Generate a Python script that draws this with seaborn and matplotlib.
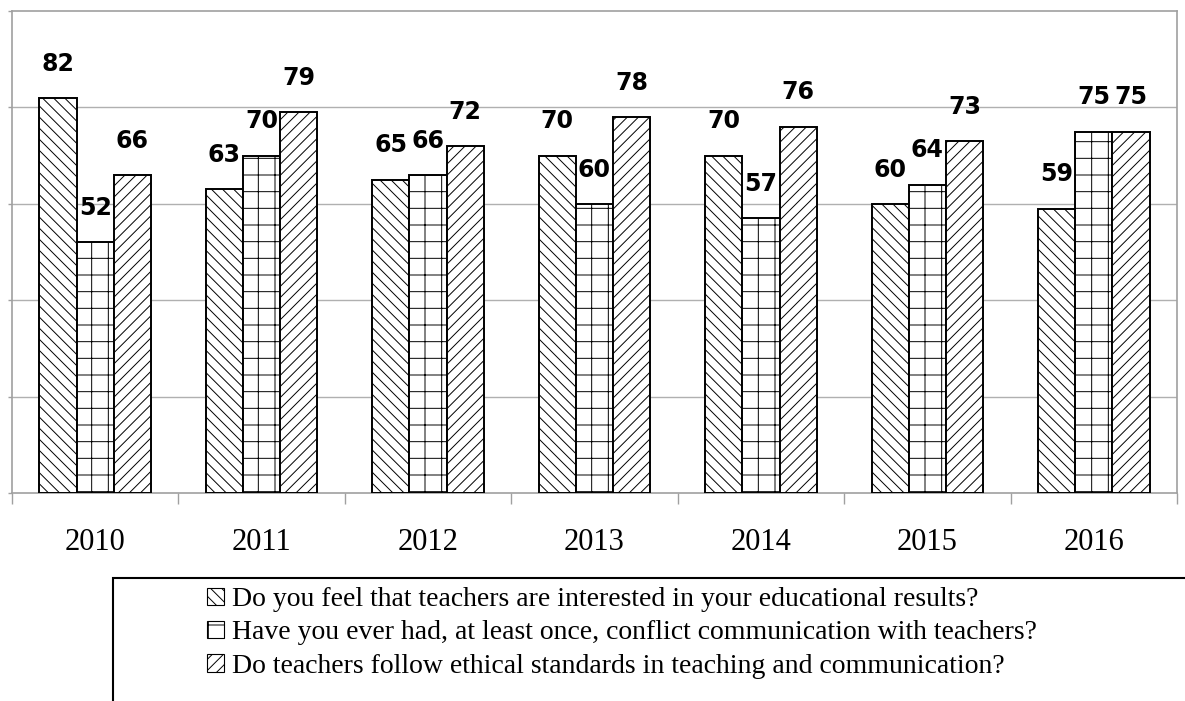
import numpy as np
import pandas as pd
import matplotlib.pyplot as plt
from matplotlib.patches import Patch, Rectangle
import seaborn as sns

years = ['2010', '2011', '2012', '2013', '2014', '2015', '2016']
questions = ['Do you feel that teachers are interested in your educational results?',
             'Have you ever had, at least once, conflict communication with teachers?',
             'Do teachers follow ethical standards in teaching and communication?']
interested = [82, 63, 65, 70, 70, 60, 59]
conflict = [52, 70, 66, 60, 57, 64, 75]
ethical = [66, 79, 72, 78, 76, 73, 75]
hatches = ['\\\\\\', '+', '///']

df = pd.DataFrame({
    'year': years * 3,
    'question': [questions[0]] * 7 + [questions[1]] * 7 + [questions[2]] * 7,
    'value': interested + conflict + ethical,
})

sns.set_style('white')
plt.rcParams['hatch.linewidth'] = 0.7
plt.rcParams['text.color'] = 'black'

fig = plt.figure(figsize=(11.85, 7.01), dpi=100)
ax = fig.add_axes([12/1185, 1 - 493/701, 1165/1185, 482/701])

sns.barplot(data=df, x='year', y='value', hue='question', hue_order=questions,
            palette=['white'] * 3, edgecolor='black', linewidth=1.4,
            width=0.67, legend=False, ax=ax, zorder=3)

for cont, h in zip(ax.containers, hatches):
    for p in cont:
        p.set_hatch(h)
    ax.bar_label(cont, padding=16, fontsize=17, fontweight='bold',
                 fontfamily='DejaVu Sans', color='black')

ax.set_ylim(0, 100)
ax.set_xlim(-0.5, 6.5)
ax.set_yticks([0, 20, 40, 60, 80, 100])
ax.set_yticklabels([])
for yv in [20, 40, 60, 80]:
    ax.axhline(yv, color='#b0b0b0', lw=1, zorder=1)

ax.set_xticks(range(7))
ax.set_xticklabels(years, fontsize=22, fontfamily='Liberation Serif', color='black')
ax.set_xticks(np.arange(-0.5, 7, 1), minor=True)
ax.tick_params(axis='x', which='major', length=0, pad=25)
ax.tick_params(axis='x', which='minor', length=8, color='#a0a0a0', width=1, direction='out', bottom=True)
ax.tick_params(axis='y', which='major', length=3, color='#a0a0a0', width=1, direction='out', left=True)
ax.set_xlabel('')
ax.set_ylabel('')
for s in ax.spines.values():
    s.set_color('#a0a0a0')
    s.set_linewidth(1.2)

# legend box running off the figure edge
box = Rectangle((113/1185, -0.05), 1.1, (1 - 578/701) + 0.05, transform=fig.transFigure,
                fill=False, edgecolor='black', lw=1.5, clip_on=False)
fig.patches.append(box)

handles = [Patch(facecolor='white', edgecolor='black', hatch=h, lw=0.8) for h in hatches]
fig.legend(handles, questions, loc='upper left', bbox_to_anchor=(196/1185, 1 - 576/701),
           frameon=False, prop={'family': 'Liberation Serif', 'size': 20},
           handlelength=0.6, handleheight=0.6, handletextpad=0.3, labelspacing=0.3,
           borderaxespad=0, labelcolor='black')

fig.savefig('out.png', dpi=100)
